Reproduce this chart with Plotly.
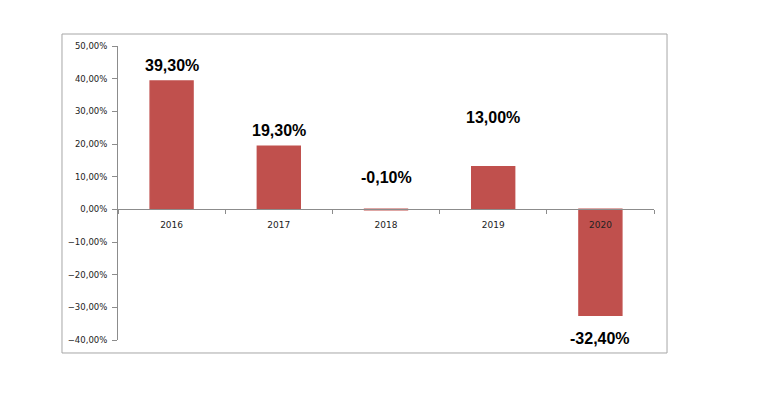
import plotly.graph_objects as go

years = ["2016", "2017", "2018", "2019", "2020"]
returns_pct = [39.3, 19.3, -0.1, 13.0, -32.4]
label_shift_px = [15, 16, 32, 49, -23]

values = [v / 100 for v in returns_pct]
labels = [f"{v:.2f}".replace(".", ",") + "%" for v in returns_pct]

bar_color = "#C0504D"

fig = go.Figure()
fig.add_trace(go.Bar(
    x=years, y=values,
    marker=dict(color=bar_color, line=dict(width=1.5, color=bar_color)),
    hoverinfo="skip",
))

for i, (v, lab, sh) in enumerate(zip(values, labels, label_shift_px)):
    fig.add_annotation(
        x=i, y=v, xref="x", yref="y", text=f"<b>{lab}</b>", showarrow=False,
        yshift=sh, font=dict(family="Liberation Sans, Arial", size=16, color="#000000"),
    )

ymin, ymax = -0.4, 0.5
fig.update_layout(
    width=751, height=388,
    margin=dict(l=110, r=105, t=38, b=56),
    paper_bgcolor="white", plot_bgcolor="white",
    separators=",.",
    showlegend=False,
    bargap=0.6,
    font=dict(family="DejaVu Sans", size=9, color="#222222"),
    xaxis=dict(
        type="category", categoryorder="array", categoryarray=years,
        range=[-0.5, len(years) - 0.5],
        tickson="boundaries", ticks="outside", ticklen=4,
        tickcolor="#8c8c8c", showline=True, linecolor="#8c8c8c", linewidth=1,
        showgrid=False, zeroline=False,
        anchor="free", position=(0 - ymin) / (ymax - ymin),
        tickfont=dict(family="DejaVu Sans", size=9, color="#222222"),
        tickangle=0, ticklabelstandoff=7,
    ),
    yaxis=dict(
        range=[ymin, ymax], dtick=0.1, tick0=0, tickformat=".2%",
        ticks="outside", ticklen=5, tickcolor="#8c8c8c",
        showline=True, linecolor="#8c8c8c", linewidth=1,
        showgrid=False, zeroline=False,
        tickfont=dict(family="DejaVu Sans", size=8.5, color="#222222"),
        ticklabelstandoff=3,
    ),
    shapes=[dict(
        type="rect", xref="paper", yref="paper",
        x0=-0.1045, x1=1.0243, y0=-0.0442, y1=1.0408,
        line=dict(color="#a6a6a6", width=1), fillcolor="rgba(0,0,0,0)", layer="below",
    )],
)

fig.write_html("out.html")
